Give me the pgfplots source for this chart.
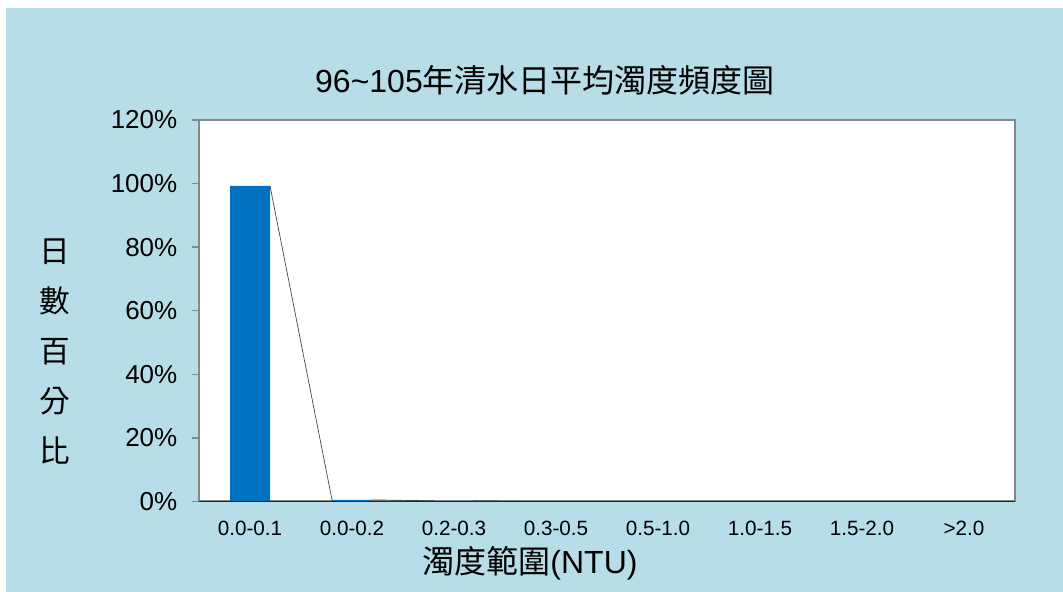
\documentclass[border=0pt]{standalone}
\usepackage{pgfplots}
\pgfplotsset{compat=1.18}
\usepackage{fontspec}
\setmainfont{Liberation Sans}
\newfontfamily\cjk{Noto Sans CJK TC}

\definecolor{panel}{HTML}{B7DDE8}
\definecolor{barblue}{HTML}{0070C0}
\definecolor{frame}{HTML}{878787}

\begin{document}
\begin{tikzpicture}
% page and panel background (1 px = 0.75 pt)
\fill[white] (0,0) rectangle (797.25pt,444pt);
\fill[panel] (4.5pt,0) rectangle (797.25pt,438pt);
\useasboundingbox (0,0) rectangle (797.25pt,444pt);

\begin{axis}[
  at={(149.25pt,67.9pt)}, anchor=south west,
  scale only axis, width=612pt, height=286.1pt,
  xmin=-0.5, xmax=7.5, ymin=0, ymax=120,
  axis background/.style={fill=white},
  axis line style={frame, line width=1.5pt},
  tick style={frame, line width=1pt},
  tick align=outside,
  major tick length=5.25pt,
  xtick pos=bottom, ytick pos=left,
  xtick={0,...,7},
  xticklabels={0.0-0.1,0.0-0.2,0.2-0.3,0.3-0.5,0.5-1.0,1.0-1.5,1.5-2.0,>2.0},
  x tick style={draw=none},
  extra x ticks={0.5,1.5,...,6.5},
  extra x tick labels={},
  extra x tick style={tick align=inside, major tick length=3.75pt,
    tick style={draw=frame, line width=1pt}},
  ytick={0,20,...,120},
  yticklabel={\pgfmathprintnumber{\tick}\%},
  /pgf/number format/assume math mode=true,
  xticklabel style={font=\fontsize{15.5}{18}\selectfont, yshift=-6pt},
  yticklabel style={font=\fontsize{19.5}{22}\selectfont, xshift=-7.5pt},
  clip=false,
]
% share of days in each turbidity range (%)
\addplot[ybar, bar width=30pt, fill=barblue, draw=none] coordinates {
  (0,99.3) (1,0.5) (2,0.2) (3,0) (4,0) (5,0) (6,0) (7,0)
};
% series lines joining the tops of neighbouring columns
\addplot[black!75, line width=0.5pt, unbounded coords=jump, mark=none] coordinates {
  (0.196,99.3) (0.804,0.5) (nan,nan)
  (1.196,0.5) (1.804,0.2) (nan,nan)
  (2.196,0.2) (2.804,0) (nan,nan)
  (3.196,0) (3.804,0) (nan,nan)
  (4.196,0) (4.804,0) (nan,nan)
  (5.196,0) (5.804,0) (nan,nan)
  (6.196,0) (6.804,0)
};
\draw[black!85, line width=1.2pt] (axis cs:-0.5,0) -- (axis cs:7.5,0);
\end{axis}

% title and axis titles
\node[font=\fontsize{24}{28}\selectfont] at (408.75pt,384pt) {96\textasciitilde105{\cjk 年清水日平均濁度頻度圖}};
\node[font=\fontsize{24}{28}\selectfont] at (397.5pt,21.75pt) {{\cjk 濁度範圍}(NTU)};
\node[font=\cjk\fontsize{23}{37.5}\selectfont, align=center] at (41.25pt,180pt) {日\\數\\百\\分\\比};
\end{tikzpicture}
\end{document}
